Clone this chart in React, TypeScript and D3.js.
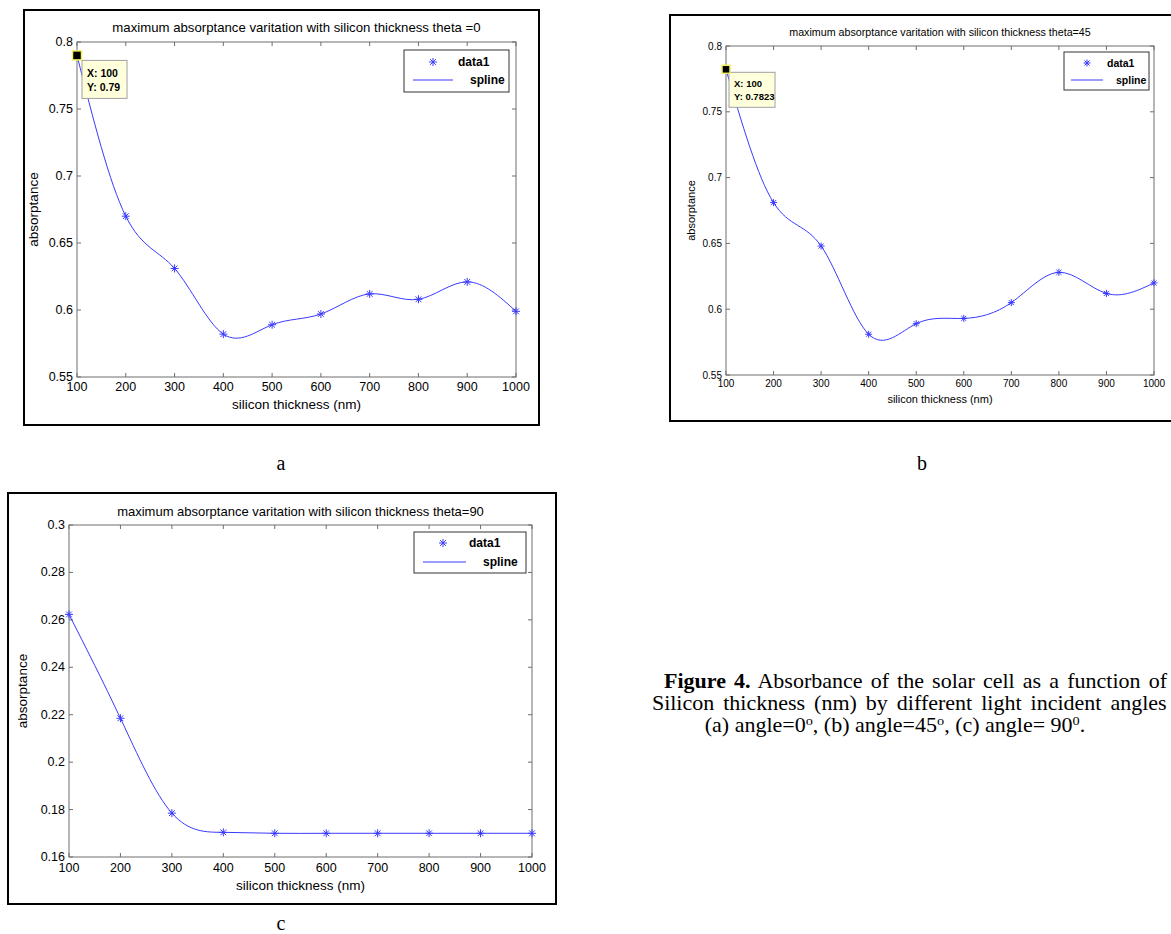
import React from 'react';
import * as d3 from 'd3';

// silicon thickness (nm), shared by all three panels
const thickness = [100, 200, 300, 400, 500, 600, 700, 800, 900, 1000];

// maximum absorptance
const absorptanceTheta0 = [0.79, 0.67, 0.631, 0.582, 0.589, 0.597, 0.612, 0.608, 0.621, 0.599];
const absorptanceTheta45 = [0.7823, 0.681, 0.648, 0.581, 0.589, 0.593, 0.605, 0.628, 0.612, 0.62];
const absorptanceTheta90 = [0.2623, 0.2185, 0.1785, 0.1704, 0.17, 0.17, 0.17, 0.17, 0.17, 0.17];

const xTicks = [100, 200, 300, 400, 500, 600, 700, 800, 900, 1000];
const yTicksUpper = [0.55, 0.6, 0.65, 0.7, 0.75, 0.8];
const yTicksLower = [0.16, 0.18, 0.2, 0.22, 0.24, 0.26, 0.28, 0.3];

const legendLabels = ['data1', 'spline'];

const BLUE = '#3a3aff';
const AXIS = '#6e6e6e';
const SANS = 'Liberation Sans, Arial, sans-serif';
const SERIF = 'Liberation Serif, Times New Roman, serif';

const fmt = (d: number) => String(+d.toFixed(4));

const Asterisk = ({ x, y, s }: { x: number; y: number; s: number }) => {
  const d = s * 0.72;
  return (
    <g stroke={BLUE} strokeWidth={1}>
      <line x1={x - s} x2={x + s} y1={y} y2={y} />
      <line x1={x} x2={x} y1={y - s} y2={y + s} />
      <line x1={x - d} x2={x + d} y1={y - d} y2={y + d} />
      <line x1={x - d} x2={x + d} y1={y + d} y2={y - d} />
    </g>
  );
};

type PanelProps = {
  frame: { x: number; y: number; w: number; h: number };
  plot: { l: number; t: number; r: number; b: number };
  yDomain: [number, number];
  yTicks: number[];
  values: number[];
  title: string;
  font: { title: number; tick: number; label: number; legend: number; tip: number };
  off: { title: number; xTick: number; xLabel: number; yLabel: number };
  legend: { x: number; y: number; w: number; h: number; star: number; text1: number; l1: number; l2: number; text2: number; r1: number; r2: number };
  tip?: { dx: number; dy: number; w: number; h: number; sq: number; lines: string[] };
  marker: number;
};

const Panel = (p: PanelProps) => {
  const x = d3.scaleLinear().domain([100, 1000]).range([p.plot.l, p.plot.r]);
  const y = d3.scaleLinear().domain(p.yDomain).range([p.plot.b, p.plot.t]);
  const pts = thickness.map((t, i) => [t, p.values[i]] as [number, number]);
  const line = d3.line<[number, number]>()
    .x(d => x(d[0]))
    .y(d => y(d[1]))
    .curve(d3.curveNatural);
  const tl = 4;
  const lg = p.legend;
  return (
    <g>
      <rect x={p.frame.x} y={p.frame.y} width={p.frame.w} height={p.frame.h} fill="white" stroke="black" strokeWidth={2} />
      <text x={(p.plot.l + p.plot.r) / 2} y={p.plot.t + p.off.title} fontSize={p.font.title} fontFamily={SANS}
        textAnchor="middle" dominantBaseline="central">{p.title}</text>
      <rect x={p.plot.l} y={p.plot.t} width={p.plot.r - p.plot.l} height={p.plot.b - p.plot.t} fill="white" stroke={AXIS} strokeWidth={1} />
      {xTicks.map(t => (
        <g key={'x' + t}>
          <line x1={x(t)} x2={x(t)} y1={p.plot.b} y2={p.plot.b - tl} stroke={AXIS} />
          <line x1={x(t)} x2={x(t)} y1={p.plot.t} y2={p.plot.t + tl} stroke={AXIS} />
          <text x={x(t)} y={p.plot.b + p.off.xTick} fontSize={p.font.tick} fontFamily={SANS}
            textAnchor="middle" dominantBaseline="central">{t}</text>
        </g>
      ))}
      {p.yTicks.map(t => (
        <g key={'y' + t}>
          <line x1={p.plot.l} x2={p.plot.l + tl} y1={y(t)} y2={y(t)} stroke={AXIS} />
          <line x1={p.plot.r} x2={p.plot.r - tl} y1={y(t)} y2={y(t)} stroke={AXIS} />
          <text x={p.plot.l - 4} y={y(t)} fontSize={p.font.tick} fontFamily={SANS}
            textAnchor="end" dominantBaseline="central">{fmt(t)}</text>
        </g>
      ))}
      <text x={(p.plot.l + p.plot.r) / 2} y={p.plot.b + p.off.xLabel} fontSize={p.font.label} fontFamily={SANS}
        textAnchor="middle" dominantBaseline="central">silicon thickness (nm)</text>
      <text transform={`translate(${p.plot.l + p.off.yLabel},${(p.plot.t + p.plot.b) / 2}) rotate(-90)`}
        fontSize={p.font.label} fontFamily={SANS} textAnchor="middle" dominantBaseline="central">absorptance</text>
      <path d={line(pts) ?? ''} fill="none" stroke={BLUE} strokeWidth={1} />
      {pts.map(d => <Asterisk key={'m' + d[0]} x={x(d[0])} y={y(d[1])} s={p.marker} />)}
      <rect x={lg.x} y={lg.y} width={lg.w} height={lg.h} fill="white" stroke="#333" strokeWidth={1} />
      <Asterisk x={lg.x + lg.star} y={lg.y + lg.r1} s={p.marker} />
      <text x={lg.x + lg.text1} y={lg.y + lg.r1} fontSize={p.font.legend} fontFamily={SANS} fontWeight="bold"
        dominantBaseline="central">{legendLabels[0]}</text>
      <line x1={lg.x + lg.l1} x2={lg.x + lg.l2} y1={lg.y + lg.r2} y2={lg.y + lg.r2} stroke={BLUE} />
      <text x={lg.x + lg.text2} y={lg.y + lg.r2} fontSize={p.font.legend} fontFamily={SANS} fontWeight="bold"
        dominantBaseline="central">{legendLabels[1]}</text>
      {p.tip && (
        <g>
          <rect x={x(thickness[0]) + p.tip.dx} y={y(p.values[0]) + p.tip.dy} width={p.tip.w} height={p.tip.h}
            fill="#ffffdc" stroke="#a0a0a0" strokeWidth={1} />
          {p.tip.lines.map((s, i) => (
            <text key={s} x={x(thickness[0]) + p.tip!.dx + 5} y={y(p.values[0]) + p.tip!.dy + p.tip!.h * (0.33 + 0.36 * i)}
              fontSize={p.font.tip} fontFamily={SANS} fontWeight="bold" dominantBaseline="central">{s}</text>
          ))}
          <rect x={x(thickness[0]) - p.tip.sq / 2} y={y(p.values[0]) - p.tip.sq / 2} width={p.tip.sq} height={p.tip.sq}
            fill="black" stroke="#f0f060" strokeWidth={1.5} />
        </g>
      )}
    </g>
  );
};

export default function App() {
  return (
    <svg width={1171} height={934} style={{ position: 'absolute', left: 0, top: 0, background: 'white' }}>
      <Panel
        frame={{ x: 24, y: 10, w: 515, h: 415 }}
        plot={{ l: 77, t: 42, r: 516, b: 377 }}
        yDomain={[0.55, 0.8]}
        yTicks={yTicksUpper}
        values={absorptanceTheta0}
        title="maximum absorptance varitation with silicon thickness theta =0"
        font={{ title: 13.2, tick: 12.5, label: 13.5, legend: 12, tip: 10.5 }}
        off={{ title: -15, xTick: 10, xLabel: 27, yLabel: -44 }}
        legend={{ x: 404, y: 50, w: 105, h: 42, star: 29, text1: 54, l1: 9, l2: 49, text2: 66, r1: 12, r2: 30 }}
        tip={{ dx: 5, dy: 5, w: 45, h: 38, sq: 9, lines: ['X: 100', 'Y: 0.79'] }}
        marker={4}
      />
      <Panel
        frame={{ x: 670, y: 15, w: 530, h: 406 }}
        plot={{ l: 726, t: 46, r: 1154, b: 375 }}
        yDomain={[0.55, 0.8]}
        yTicks={yTicksUpper}
        values={absorptanceTheta45}
        title="maximum absorptance varitation with silicon thickness theta=45"
        font={{ title: 10.7, tick: 10, label: 11, legend: 10.5, tip: 9.5 }}
        off={{ title: -14, xTick: 8, xLabel: 24, yLabel: -35 }}
        legend={{ x: 1064, y: 52, w: 85, h: 38, star: 23, text1: 43, l1: 7, l2: 39, text2: 52, r1: 11, r2: 28 }}
        tip={{ dx: 3, dy: 3, w: 46, h: 35, sq: 8, lines: ['X: 100', 'Y: 0.7823'] }}
        marker={3.5}
      />
      <Panel
        frame={{ x: 8, y: 493, w: 548, h: 411 }}
        plot={{ l: 69, t: 525, r: 532, b: 857 }}
        yDomain={[0.16, 0.3]}
        yTicks={yTicksLower}
        values={absorptanceTheta90}
        title="maximum absorptance varitation with silicon thickness theta=90"
        font={{ title: 13, tick: 12.5, label: 13.5, legend: 12, tip: 10 }}
        off={{ title: -14, xTick: 11, xLabel: 28, yLabel: -47 }}
        legend={{ x: 414, y: 532, w: 112, h: 41, star: 29, text1: 55, l1: 9, l2: 52, text2: 69, r1: 11, r2: 30 }}
        marker={4}
      />
      <g fontFamily={SERIF} fontSize={20} textAnchor="middle">
        <text x={281} y={470}>a</text>
        <text x={922} y={470}>b</text>
        <text x={281} y={930}>c</text>
        <g transform="translate(895,0) scale(1.1,1)">
          <text x={-210} y={688} textAnchor="start" style={{ wordSpacing: '2.4px' }}><tspan fontWeight="bold">Figure 4.</tspan> Absorbance of the solar cell as a function of</text>
          <text x={-221} y={710} textAnchor="start" style={{ wordSpacing: '3.2px' }}>Silicon thickness (nm) by different light incident angles</text>
          <text x={0} y={732}>(a) angle=0<tspan fontSize={13} dy={-7}>o</tspan><tspan dy={7}>, (b) angle=45</tspan><tspan fontSize={13} dy={-7}>o</tspan><tspan dy={7}>, (c) angle= 90</tspan><tspan fontSize={13} dy={-7}>0</tspan><tspan dy={7}>.</tspan></text>
        </g>
      </g>
    </svg>
  );
}
